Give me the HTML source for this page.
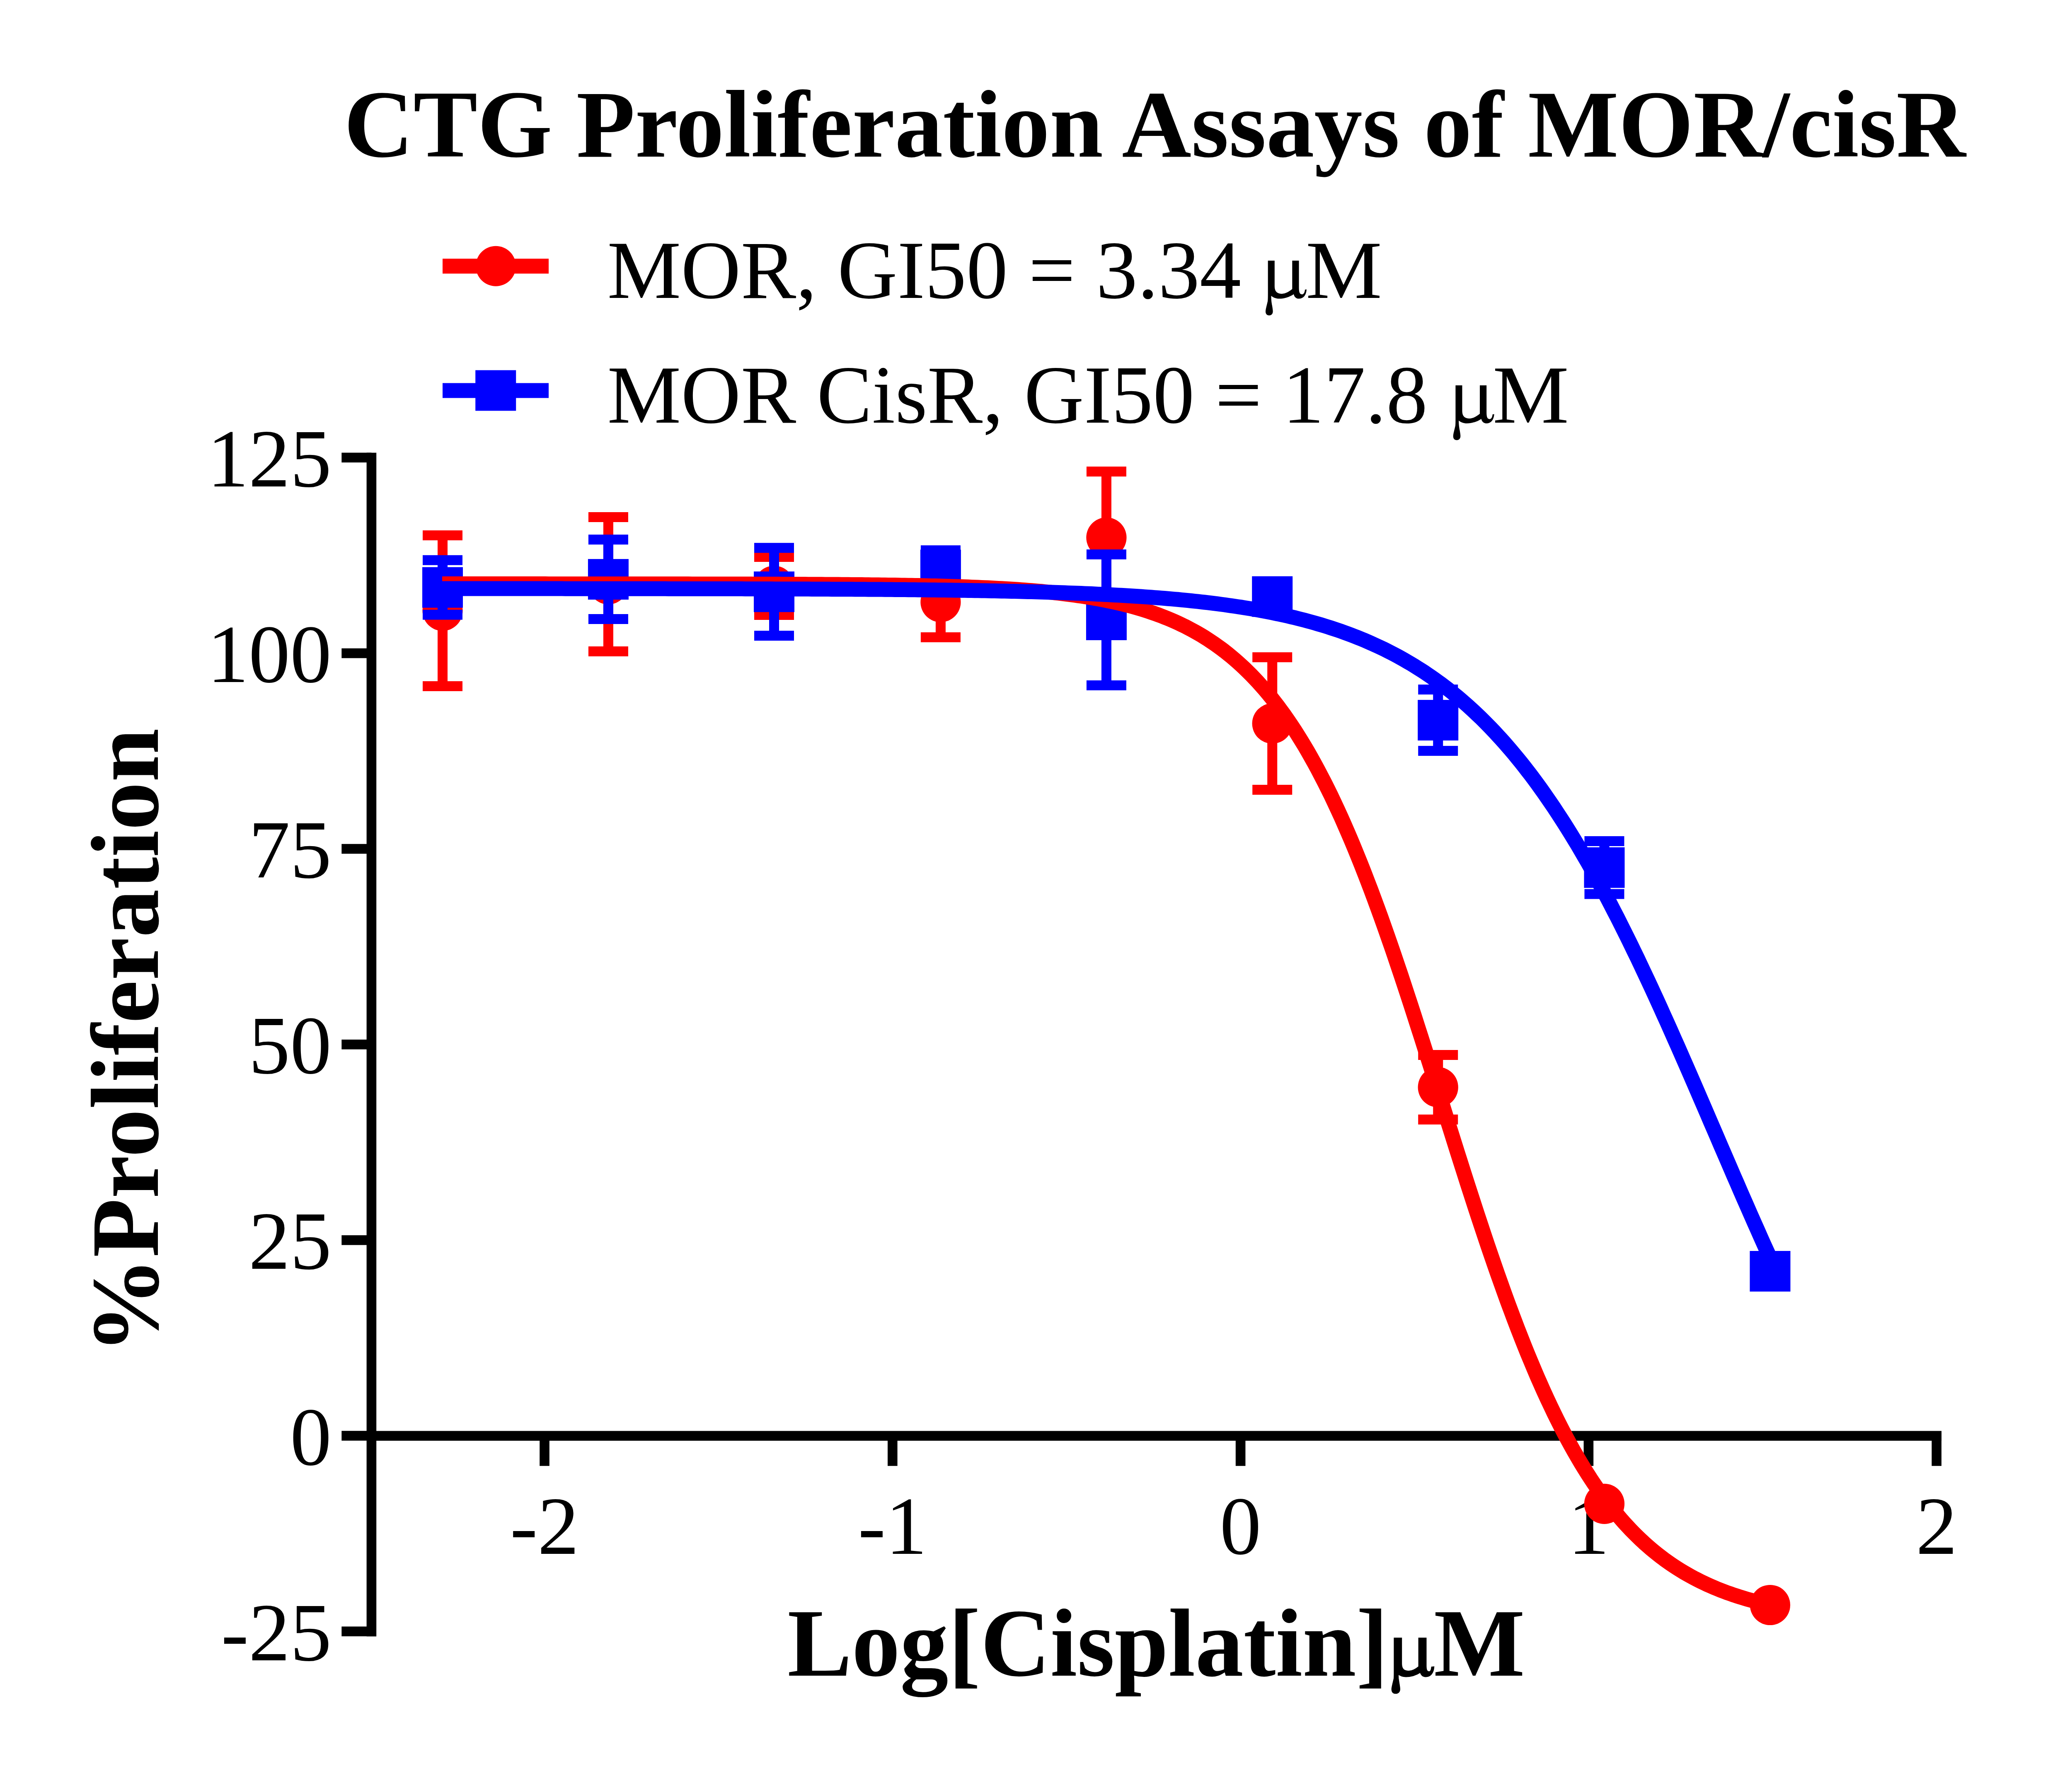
<!DOCTYPE html>
<html><head><meta charset="utf-8"><style>
html,body{margin:0;padding:0;background:#fff;width:5244px;height:4262px;overflow:hidden}
svg{display:block}
text{font-family:"Liberation Serif",serif;fill:#000}
</style></head><body>
<svg width="5244" height="4262" viewBox="0 0 5244 4262">
<rect width="5244" height="4262" fill="#fff"/>

<text x="830" y="378" font-size="232" font-weight="bold">CTG Proliferation Assays of MOR/cisR</text>
<rect x="1068" y="624.3" width="256" height="36" fill="#ff0000"/>
<circle cx="1196.5" cy="642.3" r="48.5" fill="#ff0000"/>
<rect x="1068" y="924.5" width="256" height="36" fill="#0000ff"/>
<rect x="1147.2" y="893.4" width="98" height="98" fill="#0000ff"/>
<text x="1465.4" y="718.6" font-size="200">MOR, GI50 = 3.34</text>
<text transform="translate(3151,718.6) scale(1.035,1)" x="0" y="0" font-size="200">M</text>
<text x="1465.4" y="1019.6" font-size="200">MOR CisR, GI50 = 17.8</text>
<text transform="translate(3601.9,1019.6) scale(1.035,1)" x="0" y="0" font-size="200">M</text>
<path transform="translate(3054,718.6)" d="M5.7,-89.6 L21.8,-89.6 L21.8,-28.4 C21.8,-14 29,-9.7 39.9,-9.7 C48,-9.7 57,-15 64.3,-21 L64.3,-89.6 L80.5,-89.6 L80.5,-24 C80.5,-12 83,-8.2 88,-8.2 C92,-8.2 94.5,-13 95,-19.6 L99,-20.1 C98,-6 91,2.2 80.3,2.2 C73,2.2 69,-3 67.9,-8.7 C58,-2 45,2.2 33,2.2 C24,2.2 18,-1 13.5,-4.6 C13.5,3 14,10 16,20 C17,26 17.6,30 17.6,33 C17.6,39 14,42.6 8.8,42.6 C3,42.6 0,39 0,33 C0,28 3,18 5.2,8 C5.7,4 5.7,-4 5.7,-10 Z" fill="#000"/>
<path transform="translate(3506.7,1019.6)" d="M5.7,-89.6 L21.8,-89.6 L21.8,-28.4 C21.8,-14 29,-9.7 39.9,-9.7 C48,-9.7 57,-15 64.3,-21 L64.3,-89.6 L80.5,-89.6 L80.5,-24 C80.5,-12 83,-8.2 88,-8.2 C92,-8.2 94.5,-13 95,-19.6 L99,-20.1 C98,-6 91,2.2 80.3,2.2 C73,2.2 69,-3 67.9,-8.7 C58,-2 45,2.2 33,2.2 C24,2.2 18,-1 13.5,-4.6 C13.5,3 14,10 16,20 C17,26 17.6,30 17.6,33 C17.6,39 14,42.6 8.8,42.6 C3,42.6 0,39 0,33 C0,28 3,18 5.2,8 C5.7,4 5.7,-4 5.7,-10 Z" fill="#000"/>
<rect x="884.6" y="1092.6" width="23.6" height="2856.7000000000003" fill="#000"/>
<rect x="896" y="3453.3999999999996" width="3789.1000000000004" height="23.6" fill="#000"/>
<rect x="824.3" y="1092.5" width="72.1" height="23.6" fill="#000"/>
<text x="800" y="1173.8" font-size="200" text-anchor="end">125</text>
<rect x="824.3" y="1564.7" width="72.1" height="23.6" fill="#000"/>
<text x="800" y="1646.0" font-size="200" text-anchor="end">100</text>
<rect x="824.3" y="2036.8" width="72.1" height="23.6" fill="#000"/>
<text x="800" y="2118.1" font-size="200" text-anchor="end">75</text>
<rect x="824.3" y="2508.9" width="72.1" height="23.6" fill="#000"/>
<text x="800" y="2590.2" font-size="200" text-anchor="end">50</text>
<rect x="824.3" y="2981.1" width="72.1" height="23.6" fill="#000"/>
<text x="800" y="3062.4" font-size="200" text-anchor="end">25</text>
<rect x="824.3" y="3453.2" width="72.1" height="23.6" fill="#000"/>
<text x="800" y="3534.6" font-size="200" text-anchor="end">0</text>
<rect x="824.3" y="3925.4" width="72.1" height="23.6" fill="#000"/>
<text x="800" y="4006.7" font-size="200" text-anchor="end">-25</text>
<rect x="1302.2" y="3465" width="23.6" height="72.80000000000018" fill="#000"/>
<text x="1314.0" y="3750" font-size="200" text-anchor="middle">-2</text>
<rect x="2142.0" y="3465" width="23.6" height="72.80000000000018" fill="#000"/>
<text x="2153.8" y="3750" font-size="200" text-anchor="middle">-1</text>
<rect x="2981.8" y="3465" width="23.6" height="72.80000000000018" fill="#000"/>
<text x="2993.6" y="3750" font-size="200" text-anchor="middle">0</text>
<rect x="3821.6" y="3465" width="23.6" height="72.80000000000018" fill="#000"/>
<text x="3833.4" y="3750" font-size="200" text-anchor="middle">1</text>
<rect x="4661.4" y="3465" width="23.6" height="72.80000000000018" fill="#000"/>
<text x="4673.2" y="3750" font-size="200" text-anchor="middle">2</text>
<text x="1900.2" y="4043.5" font-size="233" font-weight="bold">Log[Cisplatin]</text>
<path transform="translate(3359.4,4043.5) scale(1.01,1.0)" d="M5.7,-89.6 L21.8,-89.6 L21.8,-28.4 C21.8,-14 29,-9.7 39.9,-9.7 C48,-9.7 57,-15 64.3,-21 L64.3,-89.6 L80.5,-89.6 L80.5,-24 C80.5,-12 83,-8.2 88,-8.2 C92,-8.2 94.5,-13 95,-19.6 L99,-20.1 C98,-6 91,2.2 80.3,2.2 C73,2.2 69,-3 67.9,-8.7 C58,-2 45,2.2 33,2.2 C24,2.2 18,-1 13.5,-4.6 C13.5,3 14,10 16,20 C17,26 17.6,30 17.6,33 C17.6,39 14,42.6 8.8,42.6 C3,42.6 0,39 0,33 C0,28 3,18 5.2,8 C5.7,4 5.7,-4 5.7,-10 Z" fill="#000" stroke="#000" stroke-width="3.5"/>
<text x="3460" y="4043.5" font-size="233" font-weight="bold">M</text>
<text transform="translate(380.6,3267.5) rotate(-90)" x="0" y="0" font-size="233" font-weight="bold">%Proliferation</text>
<rect x="1056.0" y="1292.0" width="24" height="364.0" fill="#ff0000"/><rect x="1020.0" y="1280.0" width="96" height="24" fill="#ff0000"/><rect x="1020.0" y="1644.0" width="96" height="24" fill="#ff0000"/>
<circle cx="1068.0" cy="1474.0" r="48.6" fill="#ff0000"/>
<rect x="1455.9" y="1248.0" width="24" height="324.0" fill="#ff0000"/><rect x="1419.9" y="1236.0" width="96" height="24" fill="#ff0000"/><rect x="1419.9" y="1560.0" width="96" height="24" fill="#ff0000"/>
<circle cx="1467.9" cy="1410.0" r="48.6" fill="#ff0000"/>
<rect x="1856.0" y="1344.0" width="24" height="140.0" fill="#ff0000"/><rect x="1820.0" y="1332.0" width="96" height="24" fill="#ff0000"/><rect x="1820.0" y="1472.0" width="96" height="24" fill="#ff0000"/>
<circle cx="1868.0" cy="1414.0" r="48.6" fill="#ff0000"/>
<rect x="2257.9" y="1368.0" width="24" height="170.0" fill="#ff0000"/><rect x="2221.9" y="1356.0" width="96" height="24" fill="#ff0000"/><rect x="2221.9" y="1526.0" width="96" height="24" fill="#ff0000"/>
<circle cx="2269.9" cy="1453.0" r="48.6" fill="#ff0000"/>
<rect x="2657.9" y="1138.0" width="24" height="318.6" fill="#ff0000"/><rect x="2621.9" y="1126.0" width="96" height="24" fill="#ff0000"/><rect x="2621.9" y="1444.6" width="96" height="24" fill="#ff0000"/>
<circle cx="2669.9" cy="1297.3" r="48.6" fill="#ff0000"/>
<rect x="3058.2" y="1586.2" width="24" height="319.8" fill="#ff0000"/><rect x="3022.2" y="1574.2" width="96" height="24" fill="#ff0000"/><rect x="3022.2" y="1894.0" width="96" height="24" fill="#ff0000"/>
<circle cx="3070.2" cy="1746.1" r="48.6" fill="#ff0000"/>
<rect x="3458.2" y="2546.0" width="24" height="155.8" fill="#ff0000"/><rect x="3422.2" y="2534.0" width="96" height="24" fill="#ff0000"/><rect x="3422.2" y="2689.8" width="96" height="24" fill="#ff0000"/>
<circle cx="3470.2" cy="2623.9" r="48.6" fill="#ff0000"/>

<circle cx="3871.5" cy="3629.4" r="48.6" fill="#ff0000"/>

<circle cx="4271.5" cy="3873.5" r="48.6" fill="#ff0000"/>
<rect x="1056.0" y="1351.8" width="24" height="131.8" fill="#0000ff"/><rect x="1020.0" y="1339.8" width="96" height="24" fill="#0000ff"/><rect x="1020.0" y="1471.6" width="96" height="24" fill="#0000ff"/>
<rect x="1019.0" y="1368.7" width="98" height="98" fill="#0000ff"/>
<rect x="1455.9" y="1302.2" width="24" height="191.8" fill="#0000ff"/><rect x="1419.9" y="1290.2" width="96" height="24" fill="#0000ff"/><rect x="1419.9" y="1482.0" width="96" height="24" fill="#0000ff"/>
<rect x="1418.9" y="1349.1" width="98" height="98" fill="#0000ff"/>
<rect x="1856.0" y="1322.2" width="24" height="212.0" fill="#0000ff"/><rect x="1820.0" y="1310.2" width="96" height="24" fill="#0000ff"/><rect x="1820.0" y="1522.2" width="96" height="24" fill="#0000ff"/>
<rect x="1819.0" y="1379.2" width="98" height="98" fill="#0000ff"/>
<rect x="2257.9" y="1328.1" width="24" height="95.0" fill="#0000ff"/><rect x="2221.9" y="1316.1" width="96" height="24" fill="#0000ff"/><rect x="2221.9" y="1411.1" width="96" height="24" fill="#0000ff"/>
<rect x="2220.9" y="1326.6" width="98" height="98" fill="#0000ff"/>
<rect x="2657.9" y="1338.0" width="24" height="316.0" fill="#0000ff"/><rect x="2621.9" y="1326.0" width="96" height="24" fill="#0000ff"/><rect x="2621.9" y="1642.0" width="96" height="24" fill="#0000ff"/>
<rect x="2620.9" y="1447.0" width="98" height="98" fill="#0000ff"/>

<rect x="3021.2" y="1390.7" width="98" height="98" fill="#0000ff"/>
<rect x="3458.2" y="1664.1" width="24" height="148.0" fill="#0000ff"/><rect x="3422.2" y="1652.1" width="96" height="24" fill="#0000ff"/><rect x="3422.2" y="1800.1" width="96" height="24" fill="#0000ff"/>
<rect x="3421.2" y="1689.1" width="98" height="98" fill="#0000ff"/>
<rect x="3859.5" y="2030.0" width="24" height="127.6" fill="#0000ff"/><rect x="3823.5" y="2018.0" width="96" height="24" fill="#0000ff"/><rect x="3823.5" y="2145.6" width="96" height="24" fill="#0000ff"/>
<rect x="3822.5" y="2044.8" width="98" height="98" fill="#0000ff"/>

<rect x="4222.5" y="3019.0" width="98" height="98" fill="#0000ff"/>
<polyline points="1067.0,1409.1 1075.1,1409.1 1083.1,1409.1 1091.1,1409.1 1099.2,1409.1 1107.2,1409.1 1115.2,1409.1 1123.3,1409.1 1131.3,1409.1 1139.3,1409.1 1147.4,1409.1 1155.4,1409.1 1163.4,1409.1 1171.5,1409.1 1179.5,1409.1 1187.5,1409.1 1195.6,1409.1 1203.6,1409.1 1211.6,1409.1 1219.7,1409.1 1227.7,1409.1 1235.7,1409.1 1243.8,1409.1 1251.8,1409.1 1259.8,1409.1 1267.9,1409.1 1275.9,1409.1 1283.9,1409.1 1292.0,1409.1 1300.0,1409.1 1308.0,1409.1 1316.1,1409.1 1324.1,1409.2 1332.1,1409.2 1340.2,1409.2 1348.2,1409.2 1356.2,1409.2 1364.3,1409.2 1372.3,1409.2 1380.3,1409.2 1388.4,1409.2 1396.4,1409.2 1404.4,1409.2 1412.5,1409.2 1420.5,1409.2 1428.5,1409.2 1436.6,1409.2 1444.6,1409.2 1452.6,1409.2 1460.7,1409.2 1468.7,1409.2 1476.7,1409.2 1484.8,1409.2 1492.8,1409.2 1500.8,1409.2 1508.9,1409.2 1516.9,1409.2 1524.9,1409.2 1533.0,1409.2 1541.0,1409.2 1549.1,1409.2 1557.1,1409.2 1565.1,1409.3 1573.2,1409.3 1581.2,1409.3 1589.2,1409.3 1597.3,1409.3 1605.3,1409.3 1613.3,1409.3 1621.4,1409.3 1629.4,1409.3 1637.4,1409.3 1645.5,1409.3 1653.5,1409.3 1661.5,1409.3 1669.6,1409.4 1677.6,1409.4 1685.6,1409.4 1693.7,1409.4 1701.7,1409.4 1709.7,1409.4 1717.8,1409.4 1725.8,1409.4 1733.8,1409.5 1741.9,1409.5 1749.9,1409.5 1757.9,1409.5 1766.0,1409.5 1774.0,1409.5 1782.0,1409.6 1790.1,1409.6 1798.1,1409.6 1806.1,1409.6 1814.2,1409.6 1822.2,1409.7 1830.2,1409.7 1838.3,1409.7 1846.3,1409.7 1854.3,1409.8 1862.4,1409.8 1870.4,1409.8 1878.4,1409.8 1886.5,1409.9 1894.5,1409.9 1902.5,1409.9 1910.6,1410.0 1918.6,1410.0 1926.6,1410.0 1934.7,1410.1 1942.7,1410.1 1950.7,1410.2 1958.8,1410.2 1966.8,1410.2 1974.8,1410.3 1982.9,1410.3 1990.9,1410.4 1998.9,1410.5 2007.0,1410.5 2015.0,1410.6 2023.0,1410.6 2031.1,1410.7 2039.1,1410.8 2047.1,1410.8 2055.2,1410.9 2063.2,1411.0 2071.2,1411.0 2079.3,1411.1 2087.3,1411.2 2095.4,1411.3 2103.4,1411.4 2111.4,1411.5 2119.5,1411.6 2127.5,1411.7 2135.5,1411.8 2143.6,1411.9 2151.6,1412.0 2159.6,1412.1 2167.7,1412.3 2175.7,1412.4 2183.7,1412.5 2191.8,1412.7 2199.8,1412.8 2207.8,1413.0 2215.9,1413.1 2223.9,1413.3 2231.9,1413.5 2240.0,1413.7 2248.0,1413.9 2256.0,1414.1 2264.1,1414.3 2272.1,1414.5 2280.1,1414.7 2288.2,1414.9 2296.2,1415.2 2304.2,1415.4 2312.3,1415.7 2320.3,1416.0 2328.3,1416.3 2336.4,1416.6 2344.4,1416.9 2352.4,1417.2 2360.5,1417.5 2368.5,1417.9 2376.5,1418.2 2384.6,1418.6 2392.6,1419.0 2400.6,1419.4 2408.7,1419.9 2416.7,1420.3 2424.7,1420.8 2432.8,1421.2 2440.8,1421.8 2448.8,1422.3 2456.9,1422.8 2464.9,1423.4 2472.9,1424.0 2481.0,1424.6 2489.0,1425.2 2497.0,1425.9 2505.1,1426.6 2513.1,1427.3 2521.1,1428.1 2529.2,1428.9 2537.2,1429.7 2545.2,1430.5 2553.3,1431.4 2561.3,1432.3 2569.3,1433.3 2577.4,1434.3 2585.4,1435.3 2593.4,1436.4 2601.5,1437.6 2609.5,1438.7 2617.5,1439.9 2625.6,1441.2 2633.6,1442.5 2641.6,1443.9 2649.7,1445.3 2657.7,1446.8 2665.8,1448.4 2673.8,1450.0 2681.8,1451.7 2689.9,1453.4 2697.9,1455.2 2705.9,1457.1 2714.0,1459.1 2722.0,1461.1 2730.0,1463.2 2738.1,1465.4 2746.1,1467.7 2754.1,1470.1 2762.2,1472.6 2770.2,1475.2 2778.2,1477.9 2786.3,1480.6 2794.3,1483.5 2802.3,1486.5 2810.4,1489.7 2818.4,1492.9 2826.4,1496.3 2834.5,1499.8 2842.5,1503.4 2850.5,1507.2 2858.6,1511.1 2866.6,1515.2 2874.6,1519.5 2882.7,1523.8 2890.7,1528.4 2898.7,1533.1 2906.8,1538.0 2914.8,1543.1 2922.8,1548.4 2930.9,1553.9 2938.9,1559.6 2946.9,1565.4 2955.0,1571.5 2963.0,1577.9 2971.0,1584.4 2979.1,1591.2 2987.1,1598.2 2995.1,1605.5 3003.2,1613.0 3011.2,1620.8 3019.2,1628.8 3027.3,1637.2 3035.3,1645.8 3043.3,1654.7 3051.4,1663.9 3059.4,1673.4 3067.4,1683.2 3075.5,1693.4 3083.5,1703.8 3091.5,1714.6 3099.6,1725.7 3107.6,1737.2 3115.6,1749.1 3123.7,1761.2 3131.7,1773.8 3139.7,1786.7 3147.8,1800.0 3155.8,1813.7 3163.8,1827.7 3171.9,1842.2 3179.9,1857.0 3187.9,1872.3 3196.0,1887.9 3204.0,1903.9 3212.1,1920.3 3220.1,1937.2 3228.1,1954.4 3236.2,1972.0 3244.2,1990.1 3252.2,2008.5 3260.3,2027.4 3268.3,2046.6 3276.3,2066.2 3284.4,2086.2 3292.4,2106.6 3300.4,2127.4 3308.5,2148.5 3316.5,2170.0 3324.5,2191.8 3332.6,2214.0 3340.6,2236.5 3348.6,2259.3 3356.7,2282.4 3364.7,2305.8 3372.7,2329.5 3380.8,2353.4 3388.8,2377.6 3396.8,2402.0 3404.9,2426.6 3412.9,2451.4 3420.9,2476.4 3429.0,2501.5 3437.0,2526.7 3445.0,2552.1 3453.1,2577.6 3461.1,2603.1 3469.1,2628.7 3477.2,2654.3 3485.2,2679.9 3493.2,2705.5 3501.3,2731.1 3509.3,2756.6 3517.3,2782.1 3525.4,2807.4 3533.4,2832.6 3541.4,2857.7 3549.5,2882.6 3557.5,2907.4 3565.5,2931.9 3573.6,2956.2 3581.6,2980.4 3589.6,3004.2 3597.7,3027.8 3605.7,3051.1 3613.7,3074.1 3621.8,3096.8 3629.8,3119.2 3637.8,3141.3 3645.9,3163.0 3653.9,3184.4 3661.9,3205.4 3670.0,3226.1 3678.0,3246.3 3686.0,3266.2 3694.1,3285.7 3702.1,3304.8 3710.1,3323.6 3718.2,3341.9 3726.2,3359.8 3734.2,3377.3 3742.3,3394.4 3750.3,3411.1 3758.3,3427.4 3766.4,3443.3 3774.4,3458.9 3782.5,3474.0 3790.5,3488.7 3798.5,3503.0 3806.6,3516.9 3814.6,3530.5 3822.6,3543.7 3830.7,3556.5 3838.7,3568.9 3846.7,3581.0 3854.8,3592.7 3862.8,3604.1 3870.8,3615.1 3878.9,3625.8 3886.9,3636.2 3894.9,3646.2 3903.0,3655.9 3911.0,3665.4 3919.0,3674.5 3927.1,3683.3 3935.1,3691.8 3943.1,3700.0 3951.2,3708.0 3959.2,3715.7 3967.2,3723.2 3975.3,3730.4 3983.3,3737.3 3991.3,3744.0 3999.4,3750.5 4007.4,3756.7 4015.4,3762.8 4023.5,3768.6 4031.5,3774.2 4039.5,3779.6 4047.6,3784.8 4055.6,3789.9 4063.6,3794.7 4071.7,3799.4 4079.7,3803.9 4087.7,3808.3 4095.8,3812.4 4103.8,3816.5 4111.8,3820.3 4119.9,3824.1 4127.9,3827.7 4135.9,3831.1 4144.0,3834.5 4152.0,3837.7 4160.0,3840.8 4168.1,3843.8 4176.1,3846.6 4184.1,3849.4 4192.2,3852.0 4200.2,3854.6 4208.2,3857.0 4216.3,3859.4 4224.3,3861.6 4232.3,3863.8 4240.4,3865.9 4248.4,3867.9 4256.4,3869.9 4264.5,3871.7 4272.5,3873.5" fill="none" stroke="#ff0000" stroke-width="36" stroke-linejoin="round" stroke-linecap="butt"/>
<polyline points="1067.0,1420.6 1075.1,1420.6 1083.1,1420.6 1091.1,1420.6 1099.2,1420.6 1107.2,1420.6 1115.2,1420.6 1123.3,1420.6 1131.3,1420.6 1139.3,1420.6 1147.4,1420.6 1155.4,1420.6 1163.4,1420.6 1171.5,1420.6 1179.5,1420.6 1187.5,1420.6 1195.6,1420.6 1203.6,1420.6 1211.6,1420.6 1219.7,1420.6 1227.7,1420.6 1235.7,1420.6 1243.8,1420.6 1251.8,1420.6 1259.8,1420.6 1267.9,1420.6 1275.9,1420.6 1283.9,1420.6 1292.0,1420.6 1300.0,1420.6 1308.0,1420.6 1316.1,1420.6 1324.1,1420.6 1332.1,1420.6 1340.2,1420.6 1348.2,1420.6 1356.2,1420.6 1364.3,1420.7 1372.3,1420.7 1380.3,1420.7 1388.4,1420.7 1396.4,1420.7 1404.4,1420.7 1412.5,1420.7 1420.5,1420.7 1428.5,1420.7 1436.6,1420.7 1444.6,1420.7 1452.6,1420.7 1460.7,1420.7 1468.7,1420.7 1476.7,1420.7 1484.8,1420.7 1492.8,1420.7 1500.8,1420.7 1508.9,1420.7 1516.9,1420.8 1524.9,1420.8 1533.0,1420.8 1541.0,1420.8 1549.1,1420.8 1557.1,1420.8 1565.1,1420.8 1573.2,1420.8 1581.2,1420.8 1589.2,1420.8 1597.3,1420.8 1605.3,1420.8 1613.3,1420.9 1621.4,1420.9 1629.4,1420.9 1637.4,1420.9 1645.5,1420.9 1653.5,1420.9 1661.5,1420.9 1669.6,1420.9 1677.6,1420.9 1685.6,1421.0 1693.7,1421.0 1701.7,1421.0 1709.7,1421.0 1717.8,1421.0 1725.8,1421.0 1733.8,1421.0 1741.9,1421.0 1749.9,1421.1 1757.9,1421.1 1766.0,1421.1 1774.0,1421.1 1782.0,1421.1 1790.1,1421.1 1798.1,1421.2 1806.1,1421.2 1814.2,1421.2 1822.2,1421.2 1830.2,1421.2 1838.3,1421.3 1846.3,1421.3 1854.3,1421.3 1862.4,1421.3 1870.4,1421.4 1878.4,1421.4 1886.5,1421.4 1894.5,1421.4 1902.5,1421.5 1910.6,1421.5 1918.6,1421.5 1926.6,1421.5 1934.7,1421.6 1942.7,1421.6 1950.7,1421.6 1958.8,1421.7 1966.8,1421.7 1974.8,1421.7 1982.9,1421.8 1990.9,1421.8 1998.9,1421.8 2007.0,1421.9 2015.0,1421.9 2023.0,1422.0 2031.1,1422.0 2039.1,1422.1 2047.1,1422.1 2055.2,1422.1 2063.2,1422.2 2071.2,1422.2 2079.3,1422.3 2087.3,1422.3 2095.4,1422.4 2103.4,1422.4 2111.4,1422.5 2119.5,1422.6 2127.5,1422.6 2135.5,1422.7 2143.6,1422.7 2151.6,1422.8 2159.6,1422.9 2167.7,1422.9 2175.7,1423.0 2183.7,1423.1 2191.8,1423.2 2199.8,1423.2 2207.8,1423.3 2215.9,1423.4 2223.9,1423.5 2231.9,1423.6 2240.0,1423.7 2248.0,1423.7 2256.0,1423.8 2264.1,1423.9 2272.1,1424.0 2280.1,1424.1 2288.2,1424.2 2296.2,1424.3 2304.2,1424.5 2312.3,1424.6 2320.3,1424.7 2328.3,1424.8 2336.4,1424.9 2344.4,1425.1 2352.4,1425.2 2360.5,1425.3 2368.5,1425.5 2376.5,1425.6 2384.6,1425.8 2392.6,1425.9 2400.6,1426.1 2408.7,1426.2 2416.7,1426.4 2424.7,1426.6 2432.8,1426.7 2440.8,1426.9 2448.8,1427.1 2456.9,1427.3 2464.9,1427.5 2472.9,1427.7 2481.0,1427.9 2489.0,1428.1 2497.0,1428.3 2505.1,1428.5 2513.1,1428.8 2521.1,1429.0 2529.2,1429.3 2537.2,1429.5 2545.2,1429.8 2553.3,1430.0 2561.3,1430.3 2569.3,1430.6 2577.4,1430.9 2585.4,1431.2 2593.4,1431.5 2601.5,1431.8 2609.5,1432.1 2617.5,1432.4 2625.6,1432.8 2633.6,1433.1 2641.6,1433.5 2649.7,1433.9 2657.7,1434.3 2665.8,1434.7 2673.8,1435.1 2681.8,1435.5 2689.9,1435.9 2697.9,1436.4 2705.9,1436.8 2714.0,1437.3 2722.0,1437.8 2730.0,1438.3 2738.1,1438.8 2746.1,1439.3 2754.1,1439.8 2762.2,1440.4 2770.2,1440.9 2778.2,1441.5 2786.3,1442.1 2794.3,1442.7 2802.3,1443.4 2810.4,1444.0 2818.4,1444.7 2826.4,1445.4 2834.5,1446.1 2842.5,1446.8 2850.5,1447.6 2858.6,1448.4 2866.6,1449.2 2874.6,1450.0 2882.7,1450.8 2890.7,1451.7 2898.7,1452.6 2906.8,1453.5 2914.8,1454.4 2922.8,1455.4 2930.9,1456.4 2938.9,1457.4 2946.9,1458.5 2955.0,1459.5 2963.0,1460.7 2971.0,1461.8 2979.1,1463.0 2987.1,1464.2 2995.1,1465.4 3003.2,1466.7 3011.2,1468.0 3019.2,1469.3 3027.3,1470.7 3035.3,1472.1 3043.3,1473.6 3051.4,1475.1 3059.4,1476.6 3067.4,1478.2 3075.5,1479.9 3083.5,1481.5 3091.5,1483.3 3099.6,1485.0 3107.6,1486.8 3115.6,1488.7 3123.7,1490.6 3131.7,1492.6 3139.7,1494.6 3147.8,1496.7 3155.8,1498.8 3163.8,1501.0 3171.9,1503.3 3179.9,1505.6 3187.9,1507.9 3196.0,1510.4 3204.0,1512.9 3212.1,1515.5 3220.1,1518.1 3228.1,1520.8 3236.2,1523.6 3244.2,1526.4 3252.2,1529.4 3260.3,1532.4 3268.3,1535.5 3276.3,1538.6 3284.4,1541.9 3292.4,1545.2 3300.4,1548.6 3308.5,1552.2 3316.5,1555.8 3324.5,1559.5 3332.6,1563.3 3340.6,1567.1 3348.6,1571.1 3356.7,1575.2 3364.7,1579.4 3372.7,1583.7 3380.8,1588.1 3388.8,1592.7 3396.8,1597.3 3404.9,1602.0 3412.9,1606.9 3420.9,1611.9 3429.0,1617.0 3437.0,1622.2 3445.0,1627.6 3453.1,1633.1 3461.1,1638.7 3469.1,1644.5 3477.2,1650.4 3485.2,1656.4 3493.2,1662.6 3501.3,1668.9 3509.3,1675.4 3517.3,1682.0 3525.4,1688.8 3533.4,1695.8 3541.4,1702.8 3549.5,1710.1 3557.5,1717.5 3565.5,1725.1 3573.6,1732.8 3581.6,1740.7 3589.6,1748.8 3597.7,1757.1 3605.7,1765.5 3613.7,1774.2 3621.8,1783.0 3629.8,1791.9 3637.8,1801.1 3645.9,1810.5 3653.9,1820.0 3661.9,1829.7 3670.0,1839.7 3678.0,1849.8 3686.0,1860.1 3694.1,1870.6 3702.1,1881.3 3710.1,1892.2 3718.2,1903.4 3726.2,1914.7 3734.2,1926.2 3742.3,1937.9 3750.3,1949.8 3758.3,1962.0 3766.4,1974.3 3774.4,1986.8 3782.5,1999.6 3790.5,2012.5 3798.5,2025.7 3806.6,2039.0 3814.6,2052.6 3822.6,2066.3 3830.7,2080.3 3838.7,2094.4 3846.7,2108.8 3854.8,2123.3 3862.8,2138.1 3870.8,2153.0 3878.9,2168.1 3886.9,2183.4 3894.9,2198.9 3903.0,2214.6 3911.0,2230.5 3919.0,2246.5 3927.1,2262.7 3935.1,2279.0 3943.1,2295.6 3951.2,2312.2 3959.2,2329.1 3967.2,2346.1 3975.3,2363.2 3983.3,2380.4 3991.3,2397.8 3999.4,2415.4 4007.4,2433.0 4015.4,2450.8 4023.5,2468.6 4031.5,2486.6 4039.5,2504.7 4047.6,2522.8 4055.6,2541.0 4063.6,2559.4 4071.7,2577.7 4079.7,2596.2 4087.7,2614.7 4095.8,2633.2 4103.8,2651.8 4111.8,2670.4 4119.9,2689.1 4127.9,2707.8 4135.9,2726.4 4144.0,2745.1 4152.0,2763.8 4160.0,2782.4 4168.1,2801.1 4176.1,2819.7 4184.1,2838.3 4192.2,2856.8 4200.2,2875.3 4208.2,2893.7 4216.3,2912.1 4224.3,2930.4 4232.3,2948.6 4240.4,2966.7 4248.4,2984.7 4256.4,3002.7 4264.5,3020.5 4272.5,3038.2" fill="none" stroke="#0000ff" stroke-width="36" stroke-linejoin="round" stroke-linecap="butt"/>
</svg></body></html>
